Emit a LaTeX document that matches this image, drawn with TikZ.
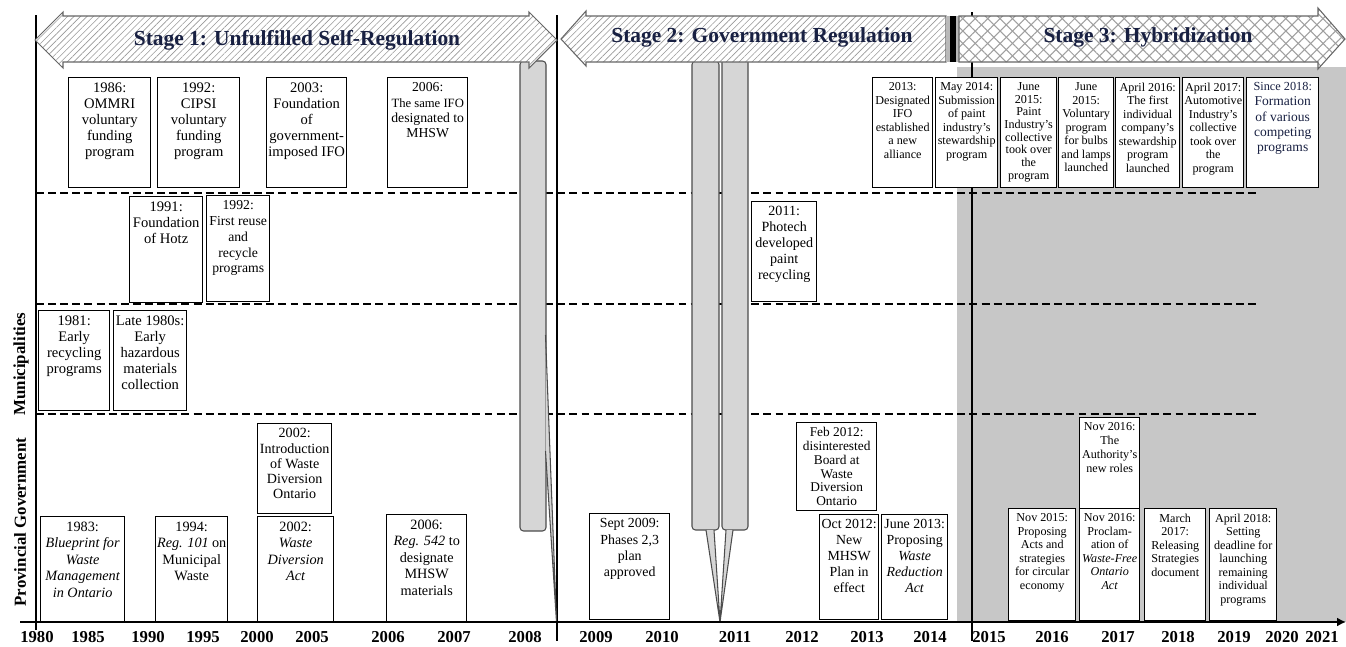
\documentclass[tikz,border=0pt]{standalone}
\usepackage{fontspec}
\setmainfont{Liberation Serif}
\usetikzlibrary{arrows.meta,patterns.meta}
\definecolor{bggray}{RGB}{199,199,199}
\definecolor{bargray}{RGB}{214,214,214}
\definecolor{inkblue}{RGB}{24,32,66}
\newlength{\pxu}\setlength{\pxu}{0.02cm}
\newcommand{\evt}[3]{\parbox[t][\dimexpr#2\pxu-1.6pt\relax][t]{\dimexpr#1\pxu-1.6pt\relax}{\centering\vspace*{2pt}#3}}

\begin{document}
\begin{tikzpicture}[x=0.02cm,y=-0.02cm,
  ev/.style={draw,line width=0.8pt,fill=white,anchor=north west,inner sep=0.8pt,
    font=\fontsize{8.3}{9.2}\selectfont},
  evs/.style={ev,font=\fontsize{6.9}{7.7}\selectfont},
  rowsep/.style={dash pattern=on 4.5pt off 2.4pt,line width=0.7pt},
  era/.style={line width=0.7pt},
  stagebox/.style={draw=gray!80!black,line width=0.6pt},
  stitle/.style={font=\fontsize{12.2}{14}\selectfont\bfseries,text=inkblue},
  callbar/.style={draw=black!70,fill=bargray,line width=0.6pt},
  yr/.style={font=\fontsize{9.5}{10}\selectfont\bfseries},
  actor/.style={rotate=90,font=\fontsize{9.6}{11}\selectfont\bfseries}
]
\useasboundingbox (0,0) rectangle (1346,646);

\fill[bggray] (957,67) rectangle (1346,622);

\draw[rowsep] (36,193) -- (1258,193);
\draw[rowsep] (36,304) -- (1258,304);
\draw[rowsep] (36,414) -- (1258,414);

\draw[era] (36,15) -- (36,630);
\draw[era] (557,15) -- (557,641);
\draw[era] (972,12) -- (972,641);

\draw[callbar,rounded corners=2pt] (520,61) rectangle (546,531);
\draw[callbar] (545.5,335) -- (556.5,622) -- (545.5,451);
\draw[callbar,rounded corners=2pt] (692,61) rectangle (719,530);
\draw[callbar] (706,530) -- (720,622) -- (714,530);
\draw[callbar,rounded corners=2pt] (722,58) rectangle (748,530);
\draw[callbar] (726,530) -- (720,622) -- (733,530);

\draw[stagebox,preaction={fill=white},
  preaction={pattern={Lines[angle=45,distance=2.6pt,line width=0.35pt]},pattern color=gray!80}]
  (35,40) -- (63,12) -- (63,16) -- (529,16) -- (529,12) -- (557,40)
  -- (529,68) -- (529,62) -- (63,62) -- (63,68) -- cycle;
\draw[stagebox,preaction={fill=white},
  preaction={pattern={Lines[angle=45,distance=2.6pt,line width=0.35pt]},pattern color=gray!80}]
  (561,39) -- (586,11) -- (586,16) -- (946,16) -- (946,62) -- (586,62) -- (586,66) -- cycle;
\fill[gray!55] (946,16) rectangle (950,62);
\fill[black] (950,16) rectangle (956,62);
\fill[gray!55] (956,16) rectangle (959,62);
\draw[stagebox,preaction={fill=white},
  preaction={pattern={Lines[angle=45,distance=5pt,line width=0.6pt]},pattern color=gray!75},
  preaction={pattern={Lines[angle=-45,distance=5pt,line width=0.6pt]},pattern color=gray!75}]
  (959,16) -- (1318,16) -- (1318,8) -- (1345,39) -- (1318,69) -- (1318,62) -- (959,62) -- cycle;

\node[stitle] (s1) at (297,40) {Stage 1: Unfulfilled Self-Regulation};
\node[stitle] (s2) at (762,37) {Stage 2: Government Regulation};
\node[stitle] (s3) at (1148,37) {Stage 3: Hybridization};

\node[ev] (e86) at (68,77) {\evt{82}{110}{1986:\\OMMRI\\voluntary\\funding\\program}};
\node[ev] (e92c) at (157,77) {\evt{82}{110}{1992:\\CIPSI\\voluntary\\funding\\program}};
\node[ev] (e03) at (266,77) {\evt{80}{110}{2003:\\Foundation\\of\\government-\\imposed IFO}};
\node[ev,font=\fontsize{7.8}{8.7}\selectfont] (e06i) at (387,77) {\evt{80}{110}{2006:\\{\fontsize{7.2}{8}\selectfont The~same~IFO}\\designated to\\MHSW}};
\node[evs] (e13) at (872,77) {\evt{60}{110}{2013:\\Designated\\IFO\\established\\a new\\alliance}};
\node[evs] (e14) at (935,77) {\evt{62}{110}{May 2014:\\Submission\\of paint\\industry's\\stewardship\\program}};
\node[evs,font=\fontsize{6.9}{7.2}\selectfont] (e15p) at (1000,77) {\evt{56}{110}{June\\2015:\\Paint\\Industry's\\collective\\took over\\the\\program}};
\node[evs] (e15v) at (1058,77) {\evt{55}{110}{June\\2015:\\Voluntary\\program\\for bulbs\\and lamps\\launched}};
\node[evs] (e16) at (1115,77) {\evt{64}{110}{April 2016:\\The first\\individual\\company's\\stewardship\\program\\launched}};
\node[evs] (e17) at (1182,77) {\evt{61}{110}{April 2017:\\Automotive\\Industry's\\collective\\took over\\the\\program}};
\node[ev,font=\fontsize{7.7}{8.6}\selectfont,text=inkblue] (e18) at (1246,77) {\evt{72}{110}{{\fontsize{7}{8}\selectfont Since 2018:}\\Formation\\of various\\competing\\programs}};

\node[ev] (e91) at (129,196) {\evt{73}{106}{1991:\\Foundation\\of Hotz}};
\node[ev,font=\fontsize{7.8}{9}\selectfont] (e92r) at (206,195) {\evt{63}{106}{1992:\\First~reuse\\and\\recycle\\programs}};
\node[ev,font=\fontsize{8}{9}\selectfont] (e11) at (751,201) {\evt{65}{100}{2011:\\Photech\\developed\\paint\\recycling}};

\node[ev] (e81) at (38,310) {\evt{71}{100}{1981:\\Early\\recycling\\programs}};
\node[ev] (e80s) at (113,310) {\evt{73}{100}{Late 1980s:\\Early\\hazardous\\materials\\collection}};

\node[ev,font=\fontsize{8}{8.6}\selectfont] (e02w) at (257,423) {\evt{74}{90}{2002:\\Introduction\\of Waste\\Diversion\\Ontario}};
\node[ev,font=\fontsize{8.1}{9.4}\selectfont] (e83) at (40,516) {\evt{84}{105}{1983:\\\textit{Blueprint for}\\\textit{Waste}\\\textit{Management}\\\textit{in Ontario}}};
\node[ev,font=\fontsize{8.1}{9.4}\selectfont] (e94) at (155,516) {\evt{72}{105}{1994:\\\textit{Reg. 101} on\\Municipal\\Waste}};
\node[ev,font=\fontsize{8.1}{9.4}\selectfont] (e02a) at (257,516) {\evt{76}{105}{2002:\\\textit{Waste}\\\textit{Diversion}\\\textit{Act}}};
\node[ev,font=\fontsize{8.1}{9.4}\selectfont] (e06r) at (386,514) {\evt{80}{107}{2006:\\\textit{Reg. 542} to\\designate\\MHSW\\materials}};
\node[ev,font=\fontsize{7.9}{9.3}\selectfont] (e09) at (589,513) {\evt{80}{106}{Sept 2009:\\Phases 2,3\\plan\\approved}};
\node[ev,font=\fontsize{7.6}{7.8}\selectfont] (e12f) at (796,422) {\evt{80}{88}{Feb 2012:\\disinterested\\Board at\\Waste\\Diversion\\Ontario}};
\node[ev,font=\fontsize{7.9}{9.1}\selectfont] (e12o) at (819,514) {\evt{59}{105}{Oct 2012:\\New\\MHSW\\Plan in\\effect}};
\node[ev,font=\fontsize{7.9}{9.1}\selectfont] (e13j) at (881,514) {\evt{66}{105}{June 2013:\\Proposing\\\textit{Waste}\\\textit{Reduction}\\\textit{Act}}};
\node[evs,font=\fontsize{6.9}{8}\selectfont] (e16a) at (1079,417) {\evt{60}{91}{Nov 2016:\\The\\Authority's\\new roles}};
\node[evs] (e15n) at (1008,508) {\evt{67}{112}{Nov 2015:\\Proposing\\Acts and\\strategies\\for circular\\economy}};
\node[evs] (e16p) at (1079,508) {\evt{60}{112}{Nov 2016:\\Proclam-\\ation of\\\textit{Waste-Free}\\\textit{Ontario}\\\textit{Act}}};
\node[evs] (e17m) at (1144,508) {\evt{61}{112}{March\\2017:\\Releasing\\Strategies\\document}};
\node[evs] (e18a) at (1209,508) {\evt{67}{112}{April 2018:\\Setting\\deadline for\\launching\\remaining\\individual\\programs}};

\coordinate (ax0) at (20,622);
\coordinate (ax1) at (1346,622);
\draw[line width=1.1pt,-{Latex[length=5pt,width=5pt]}] (ax0) -- (ax1);

\foreach \yy/\xx in {1980/37,1985/88,1990/148,1995/203,2000/257,2005/312,2006/388,2007/454,
  2008/525,2009/596,2010/662,2011/735,2012/802,2013/867,2014/930,2015/989,2016/1052,
  2017/1118,2018/1178,2019/1234,2020/1282,2021/1322}
  \node[yr] (y\yy) at (\xx,637) {\yy};

\node[actor] (mun) at (21,364) {Municipalities};
\node[actor] (prov) at (20,522) {Provincial Government};
\end{tikzpicture}
\end{document}
